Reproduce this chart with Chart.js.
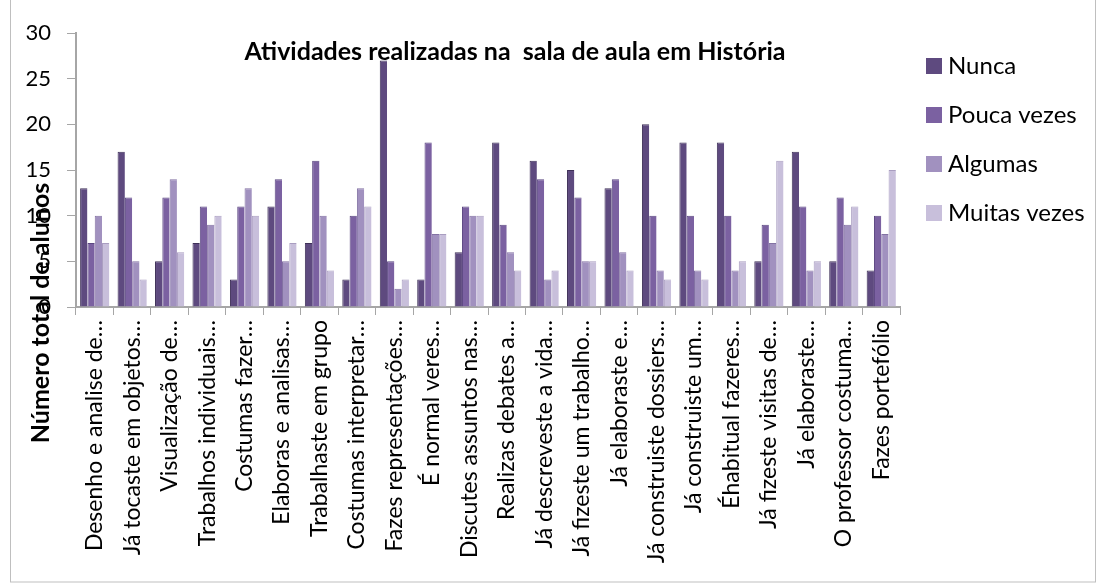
<!DOCTYPE html>
<html>
<head>
<meta charset="utf-8">
<script src="https://cdn.jsdelivr.net/npm/chart.js@4/dist/chart.umd.min.js"></script>
<style>
  body { margin: 0; background: #fff; }
  #wrap { width: 1097px; height: 584px; position: relative; }
</style>
</head>
<body>
<div id="wrap"><canvas id="barChart"></canvas></div>
<script>
  // Dados do gráfico
  var categorias = [
    "Desenho e analise de…",
    "Já tocaste em objetos…",
    "Visualização de…",
    "Trabalhos individuais…",
    "Costumas fazer…",
    "Elaboras e analisas…",
    "Trabalhaste em grupo",
    "Costumas interpretar…",
    "Fazes representações…",
    "É normal veres…",
    "Discutes assuntos nas…",
    "Realizas debates a…",
    "Já descreveste a vida…",
    "Já fizeste um trabalho…",
    "Já elaboraste e…",
    "Já construiste dossiers…",
    "Já construiste um…",
    "Éhabitual fazeres…",
    "Já fizeste visitas de…",
    "Já elaboraste…",
    "O professor costuma…",
    "Fazes portefólio"
  ];
  var nunca = [13, 17, 5, 7, 3, 11, 7, 3, 27, 3, 6, 18, 16, 15, 13, 20, 18, 18, 5, 17, 5, 4];
  var poucaVezes = [7, 12, 12, 11, 11, 14, 16, 10, 5, 18, 11, 9, 14, 12, 14, 10, 10, 10, 9, 11, 12, 10];
  var algumas = [10, 5, 14, 9, 13, 5, 10, 13, 2, 8, 10, 6, 3, 5, 6, 4, 4, 4, 7, 4, 9, 8];
  var muitasVezes = [7, 3, 6, 10, 10, 7, 4, 11, 3, 8, 10, 4, 4, 5, 4, 3, 3, 5, 16, 5, 11, 15];
  var ticksY = [0, 5, 10, 15, 20, 25, 30];

  var titulo = "Atividades realizadas na  sala de aula em História";
  var tituloY = "Número total de alunos";

  Chart.defaults.font.family = "Lato, 'Open Sans', sans-serif";
  Chart.defaults.color = "#000";

  function serie(label, data, cor, borda) {
    return {
      label: label,
      data: data,
      backgroundColor: cor,
      borderColor: borda,
      borderWidth: { left: 1, top: 1, right: 0, bottom: 0 },
      borderSkipped: false,
      categoryPercentage: 0.78,
      barPercentage: 1.0
    };
  }

  // Título, título do eixo, legenda e moldura desenhados à mão
  var extras = {
    id: "extras",
    afterDraw: function (chart) {
      var c = chart.ctx;
      c.save();
      c.strokeStyle = "#bfbfbf";
      c.lineWidth = 1;
      c.strokeRect(10.5, -2, 1085, 584);

      c.fillStyle = "#000";
      c.font = "bold 25px Lato";
      c.textAlign = "center";
      c.textBaseline = "middle";
      c.fillText(titulo, 515, 52);

      c.save();
      c.translate(41, 313);
      c.rotate(-Math.PI / 2);
      c.fillText(tituloY, 0, 0);
      c.restore();

      c.font = "24px Lato";
      c.textAlign = "left";
      chart.data.datasets.forEach(function (ds, i) {
        var y = 66 + i * 49;
        c.fillStyle = ds.backgroundColor;
        c.fillRect(926, y - 8, 16, 16);
        c.fillStyle = "#000";
        c.fillText(ds.label, 948, y);
      });
      c.restore();
    }
  };

  var ctx = document.getElementById("barChart").getContext("2d");
  var barChart = new Chart(ctx, {
    type: "bar",
    data: {
      labels: categorias,
      datasets: [
        serie("Nunca", nunca, "#5e4a7f", "#3e3058"),
        serie("Pouca vezes", poucaVezes, "#7b61a1", "#5a4680"),
        serie("Algumas", algumas, "#a191bf", "#8372a3"),
        serie("Muitas vezes", muitasVezes, "#c8bfdb", "#a99dc0")
      ]
    },
    plugins: [extras],
    options: {
      responsive: true,
      maintainAspectRatio: false,
      animation: false,
      layout: { padding: { top: 33, right: 197, left: 0, bottom: 0 } },
      plugins: {
        legend: { display: false },
        title: { display: false },
        tooltip: { enabled: false }
      },
      scales: {
        x: {
          afterFit: function (scale) { scale.height = 277; },
          border: { color: "#a6a6a6", width: 2 },
          grid: {
            drawOnChartArea: false,
            drawTicks: true,
            tickLength: 8,
            color: "#a6a6a6",
            offset: true
          },
          ticks: {
            autoSkip: false,
            maxRotation: 90,
            minRotation: 90,
            padding: 5,
            font: { size: 23 },
            color: "#000"
          }
        },
        y: {
          min: 0,
          max: 30,
          afterFit: function (scale) { scale.width = 76; },
          afterBuildTicks: function (scale) {
            scale.ticks = ticksY.map(function (v) { return { value: v }; });
          },
          border: { color: "#a6a6a6", width: 2 },
          grid: {
            drawOnChartArea: false,
            drawTicks: true,
            tickLength: 9,
            color: "#a6a6a6"
          },
          ticks: {
            padding: 16,
            font: { size: 22 },
            color: "#000"
          }
        }
      }
    }
  });
</script>
</body>
</html>
